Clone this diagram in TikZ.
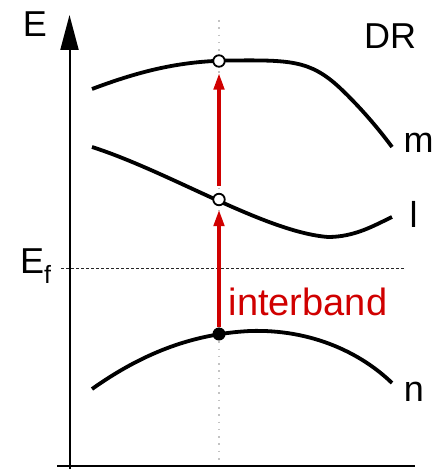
\documentclass[tikz,border=0pt]{standalone}
\usepackage{fontspec}
\setmainfont{Liberation Sans}
\usetikzlibrary{arrows.meta}
\definecolor{ired}{RGB}{208,0,0}
\definecolor{dotgray}{RGB}{195,195,195}
\begin{document}
\begin{tikzpicture}[x=1pt,y=-1pt,
  band/.style={line width=3.8pt},
  lbl/.style={inner sep=0pt, font=\fontsize{36}{40}\selectfont},
  state/.style={circle, draw, line width=1.8pt, fill=white, minimum size=11.5pt, inner sep=0pt},
  occ/.style={circle, fill=black, minimum size=13pt, inner sep=0pt},
  trans/.style={ired, line width=4.5pt, -{Triangle[length=17pt,width=10pt]}},
]
\useasboundingbox (0,0) rectangle (445,470);
% guide lines
\coordinate (gtop) at (219,20);
\coordinate (gbot) at (219,466);
\draw[dotgray, line width=1.6pt, dash pattern=on 1.6pt off 5.7pt] (gtop) -- (gbot);
\coordinate (efl) at (61,268);
\coordinate (efr) at (404,268);
\draw[black!85, line width=0.9pt, dash pattern=on 3pt off 2pt] (efl) -- (efr);
% axes
\coordinate (o) at (69.5,469);
\coordinate (ytip) at (69.5,15);
\coordinate (xl) at (57,466);
\coordinate (xr) at (415,466);
\draw[line width=2pt, -{Triangle[length=35pt,width=18pt]}] (o) -- (ytip);
\draw[line width=2.5pt] (xl) -- (xr);
% bands
\draw[band] (92,89) .. controls (140,71) and (180,61) .. (230,60.5)
  .. controls (290,60) and (310,60) .. (340,88)
  .. controls (360,107) and (378,128) .. (392,147);
\draw[band] (92,147) .. controls (170,172) and (265,232) .. (328,237)
  .. controls (355,237) and (375,225) .. (392,217);
\draw[band] (92,389) .. controls (140,355) and (190,334) .. (250,331)
  .. controls (310,329) and (360,352) .. (392,383);
% states
\node[state] (top) at (219,61) {};
\node[state] (mid) at (219,199.5) {};
\node[occ] (bot) at (219,334) {};
% transitions
\draw[trans, shorten <=0pt, shorten >=3pt] (bot) -- (mid);
\draw[trans, shorten <=7pt, shorten >=5pt] (mid) -- (top);
% labels
\node[lbl] (elab) at (35,24.5) {E};
\node[lbl] (dr) at (390,36) {DR};
\node[lbl] (mlab) at (418.5,142.5) {m};
\node[lbl] (llab) at (413.5,214) {l};
\node[lbl] (nlab) at (414,392) {n};
\node[lbl, anchor=base west, ired, font=\fontsize{38}{42}\selectfont] (ib) at (228.5,315) {interband};
\node[lbl, anchor=base west] (ef) at (20,273) {E\raisebox{-10pt}{\fontsize{25}{25}\selectfont f}};
\end{tikzpicture}
\end{document}
